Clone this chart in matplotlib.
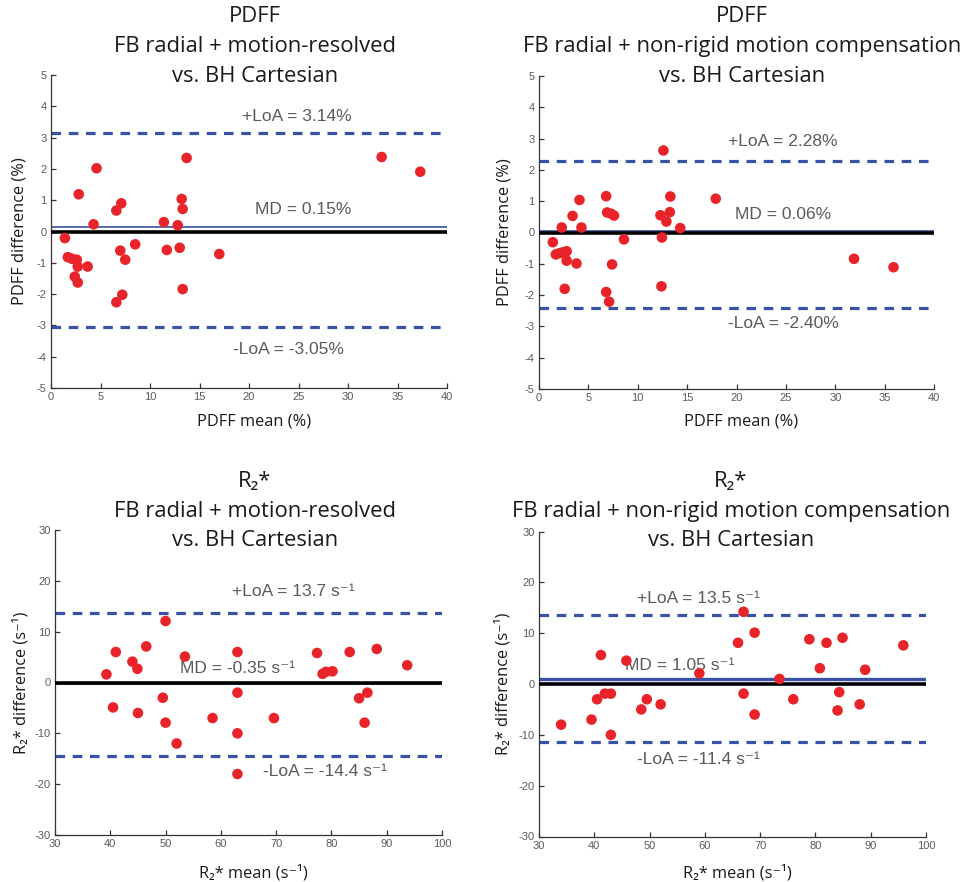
import matplotlib
matplotlib.use("Agg")
import matplotlib.pyplot as plt

plt.rcParams["axes.unicode_minus"] = False

# ---------------- data ----------------
pdff_mr_mean = [1.4, 1.7, 2.1, 2.6, 2.7, 2.4, 2.7, 2.8, 3.7, 4.3, 4.6, 6.6, 7.1, 7.0, 7.5,
                6.6, 7.2, 8.5, 11.4, 11.7, 12.8, 13.0, 13.2, 13.3, 13.3, 13.7, 17.0, 33.4, 37.3]
pdff_mr_diff = [-0.21, -0.82, -0.87, -0.9, -1.12, -1.44, -1.63, 1.19, -1.12, 0.23, 2.02, 0.67, 0.9, -0.61, -0.9,
                -2.26, -2.02, -0.41, 0.3, -0.59, 0.2, -0.52, 1.04, 0.72, -1.84, 2.35, -0.72, 2.38, 1.91]

pdff_nr_mean = [1.4, 1.7, 2.1, 2.45, 2.8, 2.3, 2.8, 2.6, 3.4, 3.8, 4.1, 4.3, 6.8, 6.9, 7.3, 7.6,
                6.8, 7.1, 7.4, 8.6, 12.3, 12.45, 12.4, 12.6, 12.9, 13.25, 13.3, 14.3, 17.9, 31.9, 35.9]
pdff_nr_diff = [-0.31, -0.7, -0.66, -0.63, -0.6, 0.16, -0.9, -1.8, 0.53, -0.99, 1.04, 0.16, 1.16, 0.64, 0.6, 0.54,
                -1.9, -2.21, -1.02, -0.22, 0.55, -0.16, -1.72, 2.62, 0.35, 0.65, 1.15, 0.14, 1.08, -0.84, -1.11]

r2_mr_mean = [39.3, 41.0, 40.5, 44.0, 44.9, 45.0, 46.5, 49.5, 50.0, 50.0, 52.0, 53.5, 58.5, 63.0,
              63.0, 63.0, 63.0, 69.6, 77.4, 78.4, 79.0, 80.2, 83.3, 85.0, 86.0, 86.5, 88.2, 93.7]
r2_mr_diff = [1.6, 6.0, -4.9, 4.1, 2.7, -6.0, 7.1, -3.0, 12.1, -7.9, -12.0, 5.1, -7.0, 6.0,
              -2.0, -10.0, -18.0, -7.0, 5.8, 1.7, 2.1, 2.2, 6.0, -3.1, -7.9, -2.0, 6.6, 3.4]

r2_nr_mean = [34.0, 39.5, 40.5, 41.2, 41.9, 43.0, 43.0, 45.8, 48.5, 49.5, 52.0, 59.0, 66.0, 67.0,
              67.0, 69.0, 69.0, 73.5, 76.0, 78.9, 80.8, 82.0, 84.0, 84.3, 84.9, 88.0, 89.0, 95.9]
r2_nr_diff = [-8.0, -7.0, -3.0, 5.7, -1.9, -1.9, -10.0, 4.6, -5.0, -3.0, -4.0, 2.1, 8.1, 14.2,
              -1.9, 10.1, -6.0, 1.0, -3.0, 8.8, 3.1, 8.1, -5.2, -1.6, 9.1, -4.0, 2.8, 7.6]

md_vals = [0.15, 0.06, -0.35, 1.05]
loa_up = [3.14, 2.28, 13.7, 13.5]
loa_lo = [-3.05, -2.40, -14.4, -11.4]

pdff_xticks = [0, 5, 10, 15, 20, 25, 30, 35, 40]
pdff_yticks = [-5, -4, -3, -2, -1, 0, 1, 2, 3, 4, 5]
r2_xticks = [30, 40, 50, 60, 70, 80, 90, 100]
r2_yticks = [-30, -20, -10, 0, 10, 20, 30]

titles = [
    "PDFF\nFB radial + motion-resolved\nvs. BH Cartesian",
    "PDFF\nFB radial + non-rigid motion compensation\nvs. BH Cartesian",
    "R\u2082*\nFB radial + motion-resolved\nvs. BH Cartesian",
    "R\u2082*\nFB radial + non-rigid motion compensation\nvs. BH Cartesian",
]
xlabels = ["PDFF mean (%)", "PDFF mean (%)", "R\u2082* mean (s\u207b\u00b9)", "R\u2082* mean (s\u207b\u00b9)"]
ylabels = ["PDFF difference (%)", "PDFF difference (%)",
           "R\u2082* difference (s\u207b\u00b9)", "R\u2082* difference (s\u207b\u00b9)"]
up_txt = ["+LoA = 3.14%", "+LoA = 2.28%", "+LoA = 13.7 s\u207b\u00b9", "+LoA = 13.5 s\u207b\u00b9"]
md_txt = ["MD = 0.15%", "MD = 0.06%", "MD = -0.35 s\u207b\u00b9", "MD = 1.05 s\u207b\u00b9"]
lo_txt = ["-LoA = -3.05%", "-LoA = -2.40%", "-LoA = -14.4 s\u207b\u00b9", "-LoA = -11.4 s\u207b\u00b9"]

# ---------------- style ----------------
TFONT = ["Open Sans", "DejaVu Sans"]
AFONT = ["Liberation Sans", "DejaVu Sans"]
RED = "#e8242a"
BLUE = "#3a52a6"
GRAY = "#5a5a5a"

fig = plt.figure(figsize=(9.68, 8.82), dpi=100)

positions = [
    [51 / 968, 1 - 388 / 882, 396 / 968, 313 / 882],
    [539 / 968, 1 - 389 / 882, 395 / 968, 313 / 882],
    [55 / 968, 1 - 835 / 882, 387 / 968, 305 / 882],
    [539 / 968, 1 - 836.5 / 882, 387 / 968, 305 / 882],
]
means = [pdff_mr_mean, pdff_nr_mean, r2_mr_mean, r2_nr_mean]
diffs = [pdff_mr_diff, pdff_nr_diff, r2_mr_diff, r2_nr_diff]
xlims = [(0, 40), (0, 40), (30, 100), (30, 100)]
ylims = [(-5, 5), (-5, 5), (-30, 30), (-30, 30)]
xticks = [pdff_xticks, pdff_xticks, r2_xticks, r2_xticks]
yticks = [pdff_yticks, pdff_yticks, r2_yticks, r2_yticks]
up_pos = [(24.8, 3.67), (24.7, 2.91), (73.1, 17.9), (58.8, 16.9)]
md_pos = [(25.5, 0.69), (24.7, 0.57), (63.1, 2.8), (55.5, 3.7)]
lo_pos = [(24.0, -3.78), (24.7, -2.9), (78.8, -17.5), (58.8, -14.8)]
md_lw = [1.2, 1.2, 1.2, 2.4]
title_x = [255, 742, 255, 731]
title_y = [17, 17, 482, 482]
xlabel_y = [421, 421, 873, 873]
ylabel_x = [20, 504, 21, 503]

for i in range(4):
    ax = fig.add_axes(positions[i])
    ax.set_xlim(*xlims[i])
    ax.set_ylim(*ylims[i])
    ax.set_xticks(xticks[i])
    ax.set_yticks(yticks[i])
    for s in ["top", "right"]:
        ax.spines[s].set_visible(False)
    for s in ["left", "bottom"]:
        ax.spines[s].set_color("#333333")
        ax.spines[s].set_linewidth(0.9)
    ax.tick_params(direction="in", length=3.5, width=0.9, colors="#333333",
                   labelcolor=GRAY, labelsize=8, pad=3)
    for lab in ax.get_xticklabels() + ax.get_yticklabels():
        lab.set_fontfamily(AFONT)
    ax.patch.set_alpha(0)

    ax.axhline(loa_up[i], color=BLUE, lw=2.3, ls=(0, (3.0, 2.4)), zorder=2)
    ax.axhline(loa_lo[i], color=BLUE, lw=2.3, ls=(0, (3.0, 2.4)), zorder=2)
    ax.axhline(md_vals[i], color=BLUE, lw=md_lw[i], zorder=2)
    ax.axhline(0, color="black", lw=2.6, zorder=3)
    ax.scatter(means[i], diffs[i], s=58, color=RED, edgecolors="none", zorder=4, clip_on=False)

    ax.text(*up_pos[i], up_txt[i], ha="center", va="center", fontsize=12.5, color=GRAY, family=AFONT)
    ax.text(*md_pos[i], md_txt[i], ha="center", va="center", fontsize=12.5, color=GRAY, family=AFONT)
    ax.text(*lo_pos[i], lo_txt[i], ha="center", va="center", fontsize=12.5, color=GRAY, family=AFONT)

    lines = titles[i].split("\n")
    for k, line in enumerate(lines):
        fig.text(title_x[i] / 968, 1 - (title_y[i] + 29.5 * k) / 882, line, ha="center", va="center",
                 fontsize=15.8, family=TFONT, color="#1a1a1a")
    fig.text((positions[i][0] + positions[i][2] / 2) + 0.005, 1 - xlabel_y[i] / 882, xlabels[i],
             ha="center", va="center", fontsize=11.8, family=TFONT, color="#1a1a1a")
    fig.text(ylabel_x[i] / 968, positions[i][1] + positions[i][3] / 2, ylabels[i],
             ha="center", va="center", rotation=90, fontsize=11.8, family=TFONT, color="#1a1a1a")

fig.savefig("out.png", dpi=100)
